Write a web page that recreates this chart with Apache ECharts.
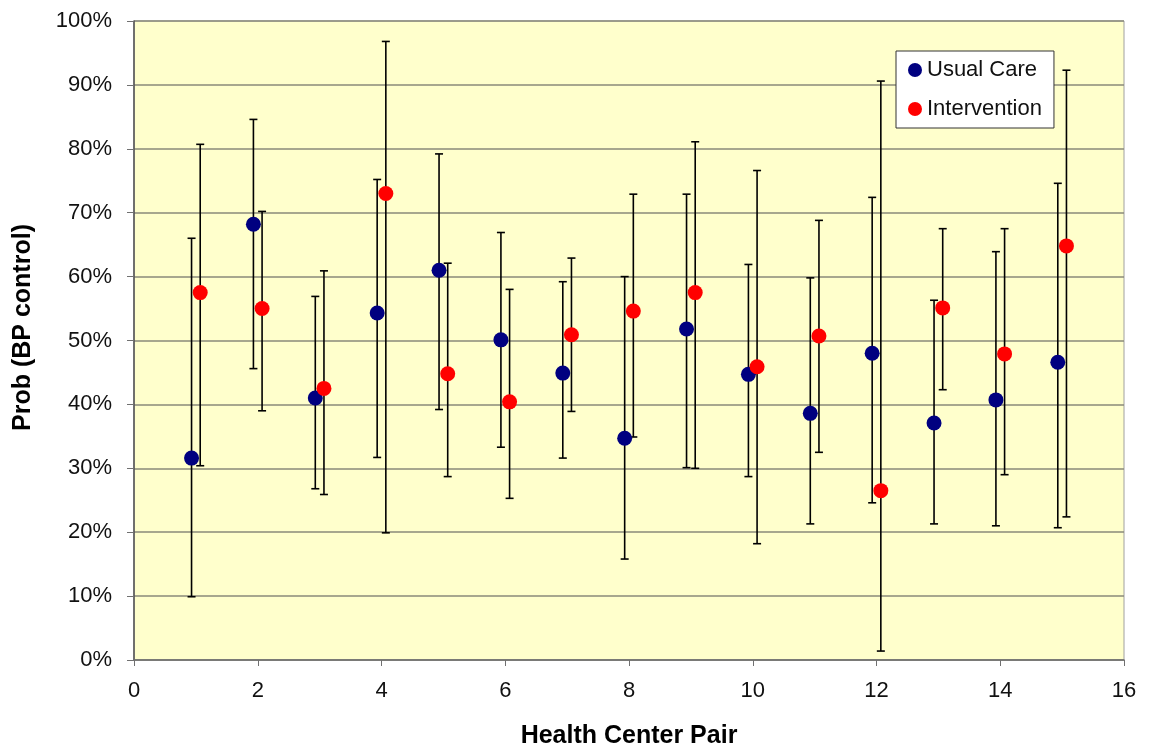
<!DOCTYPE html>
<html>
<head>
<meta charset="utf-8">
<script src="https://cdn.jsdelivr.net/npm/echarts@6/dist/echarts.min.js"></script>
<style>
html,body{margin:0;padding:0;background:#fff;}
#c{width:1152px;height:754px;}
</style>
</head>
<body>
<div id="c"></div>
<script>
// Health center pairs 1..15
var pairs = [1,2,3,4,5,6,7,8,9,10,11,12,13,14,15];
// Usual Care: estimate, lower, upper (%)
var ucMid  = [31.6,68.2,41.0,54.3,61.0,50.1,44.9,34.7,51.8,44.7,38.6,48.0,37.1,40.7,46.6];
var ucLow  = [ 9.9,45.6,26.8,31.7,39.2,33.3,31.6,15.8,30.1,28.7,21.3,24.6,21.3,21.0,20.7];
var ucHigh = [66.0,84.6,56.9,75.2,79.2,66.9,59.2,60.0,72.9,61.9,59.8,72.4,56.3,63.9,74.6];
// Intervention: estimate, lower, upper (%)
var inMid  = [57.5,55.0,42.5,73.0,44.8,40.4,50.9,54.6,57.5,45.9,50.7,26.5,55.1,47.9,64.8];
var inLow  = [30.4,39.0,25.9,19.9,28.7,25.3,38.9,34.9,30.0,18.2,32.5, 1.4,42.3,29.0,22.4];
var inHigh = [80.7,70.2,60.9,96.8,62.1,58.0,62.9,72.9,81.1,76.6,68.8,90.6,67.5,67.5,92.3];
var xTicks = [0,2,4,6,8,10,12,14,16];
var yTicks = [0,10,20,30,40,50,60,70,80,90,100];

var OFF = 0.07;
function pts(mid, d){ return pairs.map(function(p,i){ return [p+d, mid[i]]; }); }
function bars(lo, hi, d){ return pairs.map(function(p,i){ return [p+d, lo[i], hi[i]]; }); }

function renderErr(params, api){
  var x = api.value(0);
  var lo = api.coord([x, api.value(1)]);
  var hi = api.coord([x, api.value(2)]);
  var cap = 4;
  var st = {stroke:'#000', lineWidth:1.6};
  return {type:'group', children:[
    {type:'line', shape:{x1:lo[0],y1:lo[1],x2:hi[0],y2:hi[1]}, style:st},
    {type:'line', shape:{x1:lo[0]-cap,y1:lo[1],x2:lo[0]+cap,y2:lo[1]}, style:st},
    {type:'line', shape:{x1:hi[0]-cap,y1:hi[1],x2:hi[0]+cap,y2:hi[1]}, style:st}
  ]};
}

var FONT = '"Liberation Sans", Arial, sans-serif';
var chart = echarts.init(document.getElementById('c'));
chart.setOption({
  animation:false,
  backgroundColor:'#ffffff',
  grid:{left:134, right:28, top:21, bottom:94, show:true, backgroundColor:'#FFFFCC', borderColor:'#A0A0A0', borderWidth:1},
  legend:{
    left:896, top:51, orient:'vertical', itemGap:17,
    padding:[8,12,8,12],
    backgroundColor:'#ffffff', borderColor:'#333', borderWidth:1,
    itemWidth:14, itemHeight:14, icon:'circle',
    textStyle:{fontFamily:FONT, fontSize:22, color:'#111'},
    data:['Usual Care','Intervention']
  },
  xAxis:{
    type:'value', min:xTicks[0], max:xTicks[xTicks.length-1], interval:2,
    name:'Health Center Pair', nameLocation:'middle', nameGap:64,
    nameTextStyle:{fontFamily:FONT, fontSize:25, fontWeight:'bold', color:'#000'},
    axisLine:{show:true, lineStyle:{color:'#707070', width:1.5}},
    axisTick:{show:true, length:6, lineStyle:{color:'#707070'}},
    axisLabel:{fontFamily:FONT, fontSize:22, color:'#111', margin:20},
    splitLine:{show:false}
  },
  yAxis:{
    type:'value', min:yTicks[0], max:yTicks[yTicks.length-1], interval:10,
    name:'Prob (BP control)', nameLocation:'middle', nameGap:98, nameRotate:90,
    nameTextStyle:{fontFamily:FONT, fontSize:25, fontWeight:'bold', color:'#000', padding:[0,0,0,26]},
    axisLine:{show:true, lineStyle:{color:'#505050', width:1.5}},
    axisTick:{show:true, length:7, lineStyle:{color:'#707070'}},
    axisLabel:{fontFamily:FONT, fontSize:22, color:'#111', margin:22, formatter:'{value}%'},
    splitLine:{show:true, lineStyle:{color:'#8a8a7a', width:1.5}}
  },
  series:[
    {type:'custom', name:'ucErr', renderItem:renderErr, data:bars(ucLow,ucHigh,-OFF), encode:{x:0,y:[1,2]}, z:2, silent:true},
    {type:'custom', name:'inErr', renderItem:renderErr, data:bars(inLow,inHigh,OFF), encode:{x:0,y:[1,2]}, z:2, silent:true},
    {type:'scatter', name:'Usual Care', data:pts(ucMid,-OFF), symbolSize:15, itemStyle:{color:'#000080', opacity:1}, z:3},
    {type:'scatter', name:'Intervention', data:pts(inMid,OFF), symbolSize:15, itemStyle:{color:'#FF0000', opacity:1}, z:3}
  ]
});
</script>
</body>
</html>
